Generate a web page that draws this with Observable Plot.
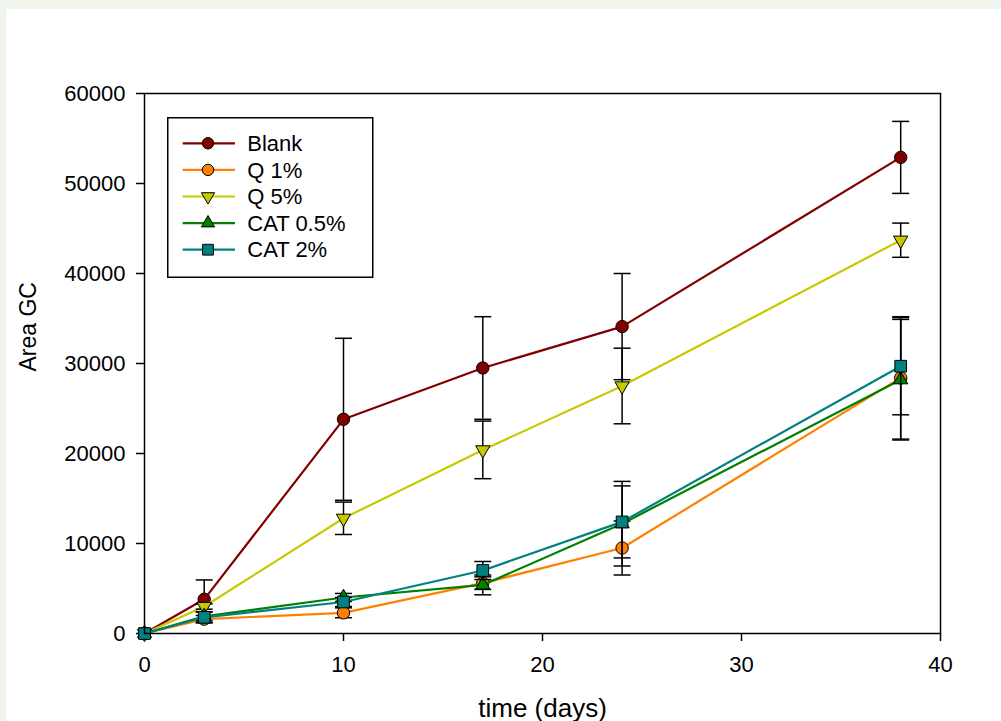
<!DOCTYPE html>
<html><head><meta charset="utf-8">
<script src="https://cdn.jsdelivr.net/npm/d3@7"></script>
<script src="https://cdn.jsdelivr.net/npm/@observablehq/plot@0.6"></script>
<style>
html,body{margin:0;padding:0;background:#eff5ec;width:1001px;height:721px;overflow:hidden;}
#panel{position:absolute;left:6px;top:9px;width:995px;height:712px;background:#fff;overflow:hidden;}
#chart{position:absolute;left:0;top:0;}
#legend{position:absolute;left:161px;top:108px;}
</style></head>
<body><div id="panel"><div id="chart"></div><svg id="legend" width="207" height="162"></svg></div>
<script>
// ---- data ----
const days = [0, 3, 10, 17, 24, 38];
const seriesNames = ["Blank", "Q 1%", "Q 5%", "CAT 0.5%", "CAT 2%"];
const blank    = [0, 3800, 23800, 29500, 34100, 52900];
const blankErr = [0, 2150, 9000, 5700, 5900, 4000];
const q1       = [0, 1600, 2300, 5600, 9500, 28400];
const q1Err    = [0, 400, 550, 700, 3000, 6800];
const q5       = [0, 3000, 12800, 20400, 27500, 43700];
const q5Err    = [0, 300, 1800, 3200, 4200, 1900];
const cat05    = [0, 1900, 4000, 5400, 12200, 28200];
const cat05Err = [0, 500, 450, 1100, 4700, 6700];
const cat2     = [0, 1800, 3500, 7000, 12400, 29700];
const cat2Err  = [0, 600, 500, 1000, 4000, 5400];
const xTicks = [0, 10, 20, 30, 40];
const yTicks = [0, 10000, 20000, 30000, 40000, 50000, 60000];
const colors = ["#800000", "#ff8000", "#c8c800", "#008000", "#008080"];

// ---- symbols ----
const sqrt3 = Math.sqrt(3);
const triDown = {draw(ctx, size){ const y = Math.sqrt(size / (sqrt3 * 3)); ctx.moveTo(0, y * 2); ctx.lineTo(-sqrt3 * y, -y); ctx.lineTo(sqrt3 * y, -y); ctx.closePath(); }};
const cap = {draw(ctx, size){ const w = Math.sqrt(size / Math.PI); ctx.moveTo(-w, 0); ctx.lineTo(w, 0); }};
const symbols = [d3.symbolCircle, d3.symbolCircle, triDown, d3.symbolTriangle, d3.symbolSquare];
const radii = [6.2, 6.2, 5.3, 5.3, 6.6];

const values = [blank, q1, q5, cat05, cat2];
const errs = [blankErr, q1Err, q5Err, cat05Err, cat2Err];

const marks = [];
seriesNames.forEach((name, s) => {
  const rows = days.map((d, i) => ({day: d, value: values[s][i], err: errs[s][i]}));
  const withErr = rows.filter(d => d.err > 0);
  marks.push(Plot.line(rows, {x: "day", y: "value", stroke: colors[s], strokeWidth: 2.2}));
  marks.push(Plot.ruleX(withErr, {x: "day", y1: d => d.value - d.err, y2: d => d.value + d.err, stroke: "black", strokeWidth: 1.5}));
  marks.push(Plot.dot(withErr, {x: "day", y: d => d.value + d.err, symbol: cap, r: 8.5, fill: "none", stroke: "black", strokeWidth: 1.5}));
  marks.push(Plot.dot(withErr, {x: "day", y: d => d.value - d.err, symbol: cap, r: 8.5, fill: "none", stroke: "black", strokeWidth: 1.5}));
  marks.push(Plot.dot(rows, {x: "day", y: "value", symbol: symbols[s], r: radii[s], fill: colors[s], stroke: "black", strokeWidth: 1}));
});

const chart = Plot.plot({
  width: 995, height: 712,
  marginLeft: 138, marginRight: 61, marginTop: 84, marginBottom: 88,
  x: {domain: [0, 40]},
  y: {domain: [0, 60000]},
  style: {fontFamily: "'Liberation Sans', Arial, sans-serif", color: "black", background: "white", overflow: "hidden"},
  marks: [
    Plot.axisX({ticks: xTicks, tickSize: 8, tickPadding: 15, tickFormat: d => String(d), label: null, fontSize: 22, strokeWidth: 1.5}),
    Plot.axisY({ticks: yTicks, tickSize: 8, tickPadding: 11, tickFormat: d => String(d), label: null, fontSize: 22, strokeWidth: 1.5}),
    ...marks,
    Plot.frame({stroke: "black", strokeWidth: 1.5}),
    Plot.text(["time (days)"], {text: d => d, frameAnchor: "bottom", dy: 83, fontSize: 26, fill: "black"}),
    Plot.text(["Area GC"], {text: d => d, frameAnchor: "left", rotate: -90, dx: -116, dy: 8, fontSize: 23, fill: "black"})
  ]
});
document.getElementById("chart").appendChild(chart);

// ---- legend ----
const lg = d3.select("#legend");
lg.append("rect").attr("x", 0.75).attr("y", 0.75).attr("width", 205).attr("height", 159.5)
  .attr("fill", "white").attr("stroke", "black").attr("stroke-width", 1.5);
seriesNames.forEach((name, s) => {
  const cy = 26.3 + s * 26.6;
  const g = lg.append("g").attr("transform", `translate(0,${cy})`);
  g.append("line").attr("x1", 15.7).attr("x2", 68).attr("y1", 0).attr("y2", 0).attr("stroke", colors[s]).attr("stroke-width", 2.2);
  const r = radii[s] * 0.92;
  g.append("path").attr("transform", "translate(41,0)")
    .attr("d", d3.symbol(symbols[s], r * r * Math.PI)())
    .attr("fill", colors[s]).attr("stroke", "black").attr("stroke-width", 1);
  g.append("text").attr("x", 80.3).attr("y", 0).attr("dy", "0.35em")
    .attr("font-family", "'Liberation Sans', Arial, sans-serif").attr("font-size", 22).attr("fill", "black").text(name);
});
</script></body></html>
